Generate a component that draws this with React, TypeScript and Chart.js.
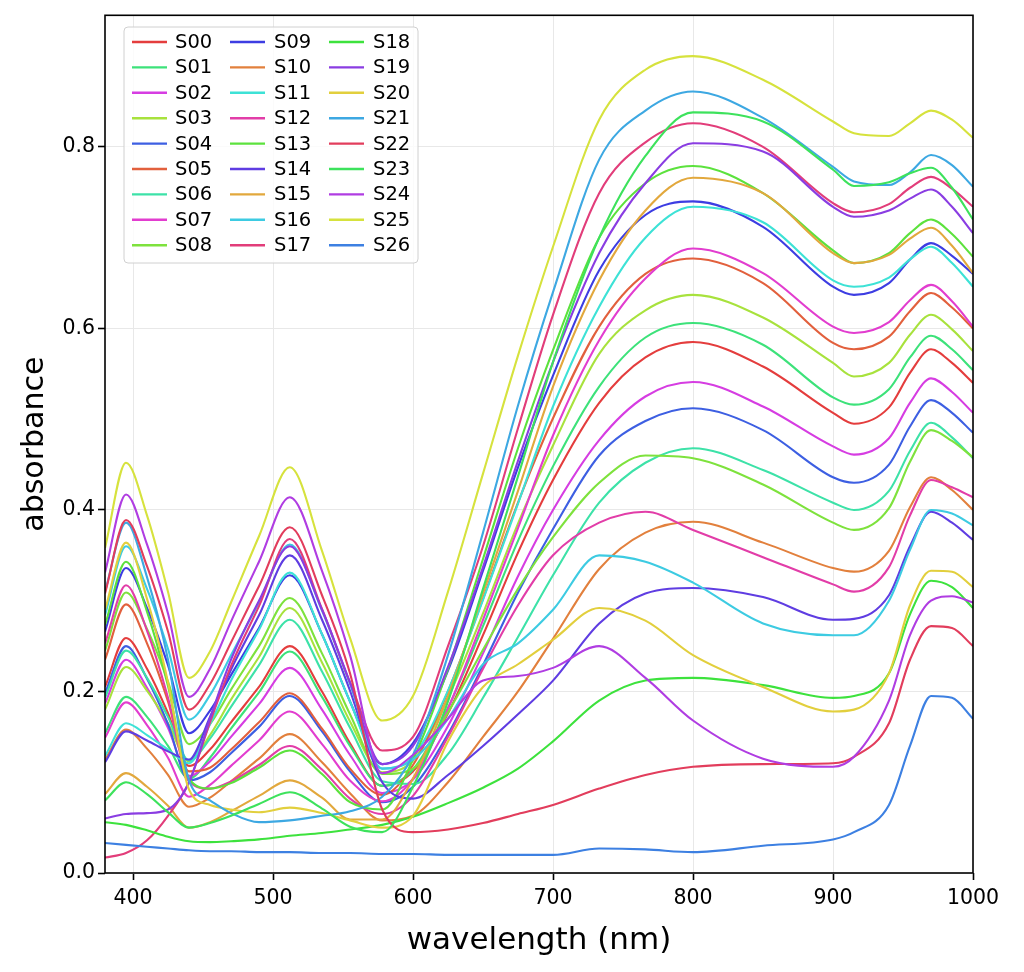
import React, { useEffect, useRef } from 'react';
import { Chart, registerables } from 'chart.js';

Chart.register(...registerables);

// wavelength grid (nm) at which the spectra were read
const wavelengths = [380, 395, 410, 425, 440, 455, 470, 490, 512, 535, 555, 578, 600, 625, 650, 675, 700, 733, 766, 800, 850, 900, 915, 940, 955, 970, 985, 1000];

const S00 = [0.205, 0.259, 0.225, 0.176, 0.118, 0.136, 0.166, 0.205, 0.250, 0.200, 0.143, 0.096, 0.112, 0.176, 0.262, 0.353, 0.433, 0.518, 0.568, 0.585, 0.558, 0.507, 0.495, 0.513, 0.551, 0.577, 0.562, 0.540];
const S01 = [0.154, 0.194, 0.172, 0.140, 0.104, 0.127, 0.159, 0.199, 0.244, 0.194, 0.140, 0.096, 0.114, 0.182, 0.272, 0.366, 0.448, 0.536, 0.590, 0.606, 0.582, 0.524, 0.516, 0.533, 0.568, 0.592, 0.577, 0.554];
const S02 = [0.187, 0.235, 0.204, 0.160, 0.107, 0.123, 0.150, 0.186, 0.226, 0.180, 0.130, 0.088, 0.103, 0.162, 0.242, 0.327, 0.400, 0.477, 0.525, 0.541, 0.514, 0.470, 0.461, 0.479, 0.518, 0.545, 0.530, 0.507];
const S03 = [0.180, 0.227, 0.201, 0.165, 0.123, 0.152, 0.191, 0.238, 0.292, 0.232, 0.167, 0.111, 0.124, 0.193, 0.286, 0.385, 0.471, 0.572, 0.620, 0.637, 0.612, 0.562, 0.547, 0.562, 0.593, 0.615, 0.599, 0.575];
const S04 = [0.198, 0.250, 0.214, 0.164, 0.102, 0.111, 0.132, 0.161, 0.195, 0.156, 0.112, 0.078, 0.095, 0.153, 0.229, 0.309, 0.379, 0.460, 0.498, 0.512, 0.488, 0.436, 0.430, 0.450, 0.492, 0.521, 0.507, 0.485];
const S05 = [0.235, 0.296, 0.253, 0.189, 0.112, 0.116, 0.136, 0.166, 0.198, 0.159, 0.115, 0.086, 0.119, 0.200, 0.302, 0.408, 0.501, 0.602, 0.660, 0.677, 0.650, 0.584, 0.577, 0.591, 0.619, 0.639, 0.623, 0.600];
const S06 = [0.193, 0.245, 0.215, 0.172, 0.124, 0.148, 0.183, 0.229, 0.279, 0.222, 0.160, 0.101, 0.098, 0.131, 0.193, 0.260, 0.328, 0.408, 0.452, 0.468, 0.444, 0.408, 0.400, 0.421, 0.465, 0.496, 0.480, 0.457];
const S07 = [0.149, 0.188, 0.163, 0.127, 0.084, 0.097, 0.118, 0.146, 0.178, 0.142, 0.102, 0.079, 0.104, 0.181, 0.279, 0.380, 0.482, 0.587, 0.655, 0.688, 0.661, 0.602, 0.595, 0.607, 0.631, 0.648, 0.630, 0.602];
const S08 = [0.245, 0.309, 0.269, 0.211, 0.142, 0.164, 0.202, 0.250, 0.303, 0.242, 0.175, 0.109, 0.115, 0.177, 0.246, 0.313, 0.370, 0.430, 0.460, 0.457, 0.428, 0.386, 0.378, 0.402, 0.453, 0.488, 0.476, 0.458];
const S09 = [0.266, 0.336, 0.292, 0.229, 0.154, 0.179, 0.218, 0.270, 0.328, 0.263, 0.189, 0.120, 0.143, 0.223, 0.333, 0.447, 0.548, 0.664, 0.725, 0.740, 0.712, 0.646, 0.637, 0.650, 0.676, 0.694, 0.680, 0.660];
const S10 = [0.125, 0.158, 0.137, 0.108, 0.073, 0.083, 0.101, 0.126, 0.153, 0.122, 0.088, 0.058, 0.063, 0.100, 0.150, 0.200, 0.258, 0.335, 0.375, 0.387, 0.364, 0.336, 0.332, 0.355, 0.403, 0.436, 0.422, 0.400];
const S11 = [0.129, 0.165, 0.152, 0.136, 0.121, 0.164, 0.212, 0.268, 0.331, 0.263, 0.189, 0.115, 0.128, 0.201, 0.301, 0.407, 0.514, 0.624, 0.700, 0.734, 0.717, 0.653, 0.646, 0.656, 0.676, 0.690, 0.672, 0.646];
const S12 = [0.253, 0.317, 0.267, 0.193, 0.101, 0.093, 0.101, 0.119, 0.140, 0.114, 0.082, 0.065, 0.085, 0.150, 0.225, 0.295, 0.350, 0.386, 0.398, 0.378, 0.348, 0.318, 0.310, 0.337, 0.394, 0.433, 0.425, 0.414];
const S13 = [0.273, 0.343, 0.288, 0.206, 0.104, 0.093, 0.099, 0.116, 0.135, 0.109, 0.078, 0.070, 0.125, 0.225, 0.346, 0.468, 0.576, 0.700, 0.760, 0.779, 0.749, 0.686, 0.672, 0.683, 0.705, 0.720, 0.704, 0.679];
const S14 = [0.122, 0.156, 0.146, 0.134, 0.125, 0.172, 0.224, 0.284, 0.350, 0.279, 0.201, 0.100, 0.082, 0.108, 0.140, 0.175, 0.212, 0.275, 0.308, 0.314, 0.304, 0.279, 0.280, 0.306, 0.360, 0.398, 0.386, 0.367];
const S15 = [0.087, 0.110, 0.095, 0.074, 0.050, 0.056, 0.068, 0.085, 0.102, 0.083, 0.059, 0.059, 0.104, 0.195, 0.308, 0.421, 0.536, 0.653, 0.730, 0.766, 0.749, 0.683, 0.672, 0.681, 0.699, 0.711, 0.691, 0.661];
const S16 = [0.284, 0.360, 0.313, 0.247, 0.169, 0.196, 0.240, 0.298, 0.362, 0.289, 0.208, 0.115, 0.125, 0.170, 0.230, 0.253, 0.290, 0.350, 0.343, 0.320, 0.275, 0.262, 0.262, 0.300, 0.356, 0.400, 0.396, 0.383];
const S17 = [0.017, 0.022, 0.036, 0.063, 0.100, 0.166, 0.228, 0.294, 0.368, 0.291, 0.210, 0.135, 0.150, 0.250, 0.360, 0.490, 0.615, 0.749, 0.805, 0.826, 0.800, 0.738, 0.728, 0.737, 0.755, 0.767, 0.754, 0.734];
const S18 = [0.056, 0.053, 0.047, 0.040, 0.035, 0.034, 0.035, 0.037, 0.041, 0.044, 0.048, 0.053, 0.062, 0.077, 0.094, 0.115, 0.145, 0.190, 0.212, 0.215, 0.207, 0.193, 0.195, 0.220, 0.285, 0.322, 0.315, 0.292];
const S19 = [0.060, 0.065, 0.066, 0.070, 0.100, 0.170, 0.235, 0.300, 0.360, 0.290, 0.210, 0.120, 0.140, 0.227, 0.337, 0.454, 0.563, 0.683, 0.760, 0.804, 0.795, 0.734, 0.723, 0.730, 0.743, 0.753, 0.734, 0.705];
const S20 = [0.290, 0.364, 0.302, 0.210, 0.092, 0.075, 0.070, 0.067, 0.072, 0.066, 0.058, 0.050, 0.063, 0.145, 0.205, 0.230, 0.257, 0.292, 0.278, 0.240, 0.205, 0.178, 0.180, 0.220, 0.295, 0.333, 0.332, 0.315];
const S21 = [0.310, 0.386, 0.326, 0.235, 0.102, 0.080, 0.066, 0.056, 0.058, 0.063, 0.068, 0.084, 0.130, 0.240, 0.375, 0.515, 0.640, 0.786, 0.840, 0.861, 0.832, 0.778, 0.762, 0.758, 0.772, 0.791, 0.780, 0.756];
const S22 = [0.308, 0.389, 0.338, 0.266, 0.180, 0.208, 0.254, 0.316, 0.381, 0.306, 0.220, 0.070, 0.045, 0.048, 0.055, 0.065, 0.075, 0.093, 0.108, 0.117, 0.120, 0.121, 0.128, 0.165, 0.235, 0.272, 0.270, 0.250];
const S23 = [0.080, 0.100, 0.087, 0.067, 0.050, 0.055, 0.063, 0.076, 0.089, 0.071, 0.051, 0.045, 0.095, 0.189, 0.313, 0.437, 0.563, 0.700, 0.790, 0.838, 0.828, 0.775, 0.757, 0.761, 0.771, 0.777, 0.755, 0.720];
const S24 = [0.331, 0.417, 0.362, 0.286, 0.194, 0.225, 0.277, 0.343, 0.414, 0.333, 0.240, 0.110, 0.130, 0.170, 0.212, 0.217, 0.226, 0.250, 0.215, 0.168, 0.126, 0.117, 0.128, 0.190, 0.262, 0.300, 0.305, 0.298];
const S25 = [0.358, 0.452, 0.394, 0.310, 0.215, 0.244, 0.298, 0.371, 0.447, 0.355, 0.259, 0.168, 0.195, 0.310, 0.440, 0.570, 0.690, 0.830, 0.885, 0.900, 0.874, 0.828, 0.815, 0.812, 0.826, 0.840, 0.830, 0.810];
const S26 = [0.033, 0.031, 0.029, 0.027, 0.025, 0.024, 0.024, 0.023, 0.023, 0.022, 0.022, 0.021, 0.021, 0.020, 0.020, 0.020, 0.020, 0.027, 0.026, 0.023, 0.030, 0.037, 0.045, 0.075, 0.140, 0.195, 0.193, 0.170];

const seriesValues = [S00, S01, S02, S03, S04, S05, S06, S07, S08, S09, S10, S11, S12, S13, S14, S15, S16, S17, S18, S19, S20, S21, S22, S23, S24, S25, S26];
const seriesNames = ['S00', 'S01', 'S02', 'S03', 'S04', 'S05', 'S06', 'S07', 'S08', 'S09', 'S10', 'S11', 'S12', 'S13', 'S14', 'S15', 'S16', 'S17', 'S18', 'S19', 'S20', 'S21', 'S22', 'S23', 'S24', 'S25', 'S26'];
const seriesColors = [
  '#e43d3d', '#3de27a', '#d63de2', '#a8e23d', '#3d5fe2', '#e2603d', '#3de2a8', '#e23dcf', '#7ee23d',
  '#3d3de2', '#e2803d', '#3de2d6', '#e23da8', '#5ce23d', '#5f3de2', '#e2a83d', '#3dcbe2', '#e23d7a',
  '#3de23d', '#8a3de2', '#e2cf3d', '#3da8e2', '#e23d5c', '#3de25c', '#b03de2', '#d6e23d', '#3d80e2',
];

const xTicks = [400, 500, 600, 700, 800, 900, 1000];
const yTicks = [0.0, 0.2, 0.4, 0.6, 0.8];
const xRange = [380, 1000];
const yRange = [0, 0.945];

const FONT = "'DejaVu Sans', 'Liberation Sans', sans-serif";

const framePlugin = {
  id: 'frame',
  afterDatasetsDraw(chart: any) {
    const { ctx, chartArea } = chart;
    ctx.save();
    ctx.strokeStyle = '#000';
    ctx.lineWidth = 1.6;
    ctx.strokeRect(chartArea.left, chartArea.top, chartArea.right - chartArea.left, chartArea.bottom - chartArea.top);
    ctx.restore();
  },
};

const legendPlugin = {
  id: 'gridLegend',
  afterDraw(chart: any) {
    const { ctx } = chart;
    const x0 = 124, y0 = 27, w = 294, h = 236, r = 4;
    ctx.save();
    ctx.beginPath();
    ctx.moveTo(x0 + r, y0);
    ctx.lineTo(x0 + w - r, y0);
    ctx.quadraticCurveTo(x0 + w, y0, x0 + w, y0 + r);
    ctx.lineTo(x0 + w, y0 + h - r);
    ctx.quadraticCurveTo(x0 + w, y0 + h, x0 + w - r, y0 + h);
    ctx.lineTo(x0 + r, y0 + h);
    ctx.quadraticCurveTo(x0, y0 + h, x0, y0 + h - r);
    ctx.lineTo(x0, y0 + r);
    ctx.quadraticCurveTo(x0, y0, x0 + r, y0);
    ctx.closePath();
    ctx.fillStyle = 'rgba(255,255,255,0.8)';
    ctx.fill();
    ctx.strokeStyle = '#d0d0d0';
    ctx.lineWidth = 1;
    ctx.stroke();

    const lineX = [132, 230, 329];
    const textX = [175, 274, 373];
    ctx.font = `19.5px ${FONT}`;
    ctx.textBaseline = 'middle';
    ctx.textAlign = 'left';
    chart.data.datasets.forEach((ds: any, i: number) => {
      const col = Math.floor(i / 9);
      const row = i % 9;
      const y = 42 + row * 25.4;
      ctx.strokeStyle = ds.borderColor;
      ctx.lineWidth = 2.4;
      ctx.beginPath();
      ctx.moveTo(lineX[col], y);
      ctx.lineTo(lineX[col] + 35, y);
      ctx.stroke();
      ctx.fillStyle = '#000';
      ctx.fillText(ds.label, textX[col], y + 1);
    });
    ctx.restore();
  },
};

export default function App() {
  const ref = useRef<HTMLCanvasElement>(null);

  useEffect(() => {
    document.body.style.margin = '0';
    if (!ref.current) return;
    const datasets = seriesValues.map((vals, i) => ({
      label: seriesNames[i],
      data: vals.map((v, j) => ({ x: wavelengths[j], y: v })),
      borderColor: seriesColors[i],
      backgroundColor: seriesColors[i],
      borderWidth: 2.1,
      pointRadius: 0,
      fill: false,
      cubicInterpolationMode: 'monotone' as const,
      order: seriesValues.length - 1 - i,
    }));

    const chart = new Chart(ref.current, {
      type: 'line',
      data: { datasets },
      options: {
        animation: false,
        responsive: false,
        maintainAspectRatio: false,
        layout: { padding: { left: 0, right: 51, top: 15, bottom: 0 } },
        plugins: {
          legend: { display: false },
          tooltip: { enabled: false },
        },
        scales: {
          x: {
            type: 'linear',
            min: xRange[0],
            max: xRange[1],
            afterBuildTicks: (scale: any) => {
              scale.ticks = xTicks.map((v) => ({ value: v }));
            },
            afterFit: (scale: any) => {
              scale.height = 99;
            },
            border: { display: false },
            grid: {
              color: '#e8e8e8',
              lineWidth: 1,
              drawTicks: true,
              tickLength: 7,
              tickColor: '#000',
              tickWidth: 1.6,
            },
            ticks: {
              color: '#000',
              font: { family: FONT, size: 20.5 },
              padding: 6,
              maxRotation: 0,
              autoSkip: false,
              callback: (v: any) => String(v),
            },
            title: {
              display: true,
              text: 'wavelength (nm)',
              color: '#000',
              font: { family: FONT, size: 31 },
              padding: { top: 0, bottom: 12 },
            },
          },
          y: {
            type: 'linear',
            min: yRange[0],
            max: yRange[1],
            afterBuildTicks: (scale: any) => {
              scale.ticks = yTicks.map((v) => ({ value: v }));
            },
            afterFit: (scale: any) => {
              scale.width = 105;
            },
            border: { display: false },
            grid: {
              color: '#e8e8e8',
              lineWidth: 1,
              drawTicks: true,
              tickLength: 7,
              tickColor: '#000',
              tickWidth: 1.6,
            },
            ticks: {
              color: '#000',
              font: { family: FONT, size: 20.5 },
              padding: 3,
              autoSkip: false,
              callback: (v: any) => Number(v).toFixed(1),
            },
            title: {
              display: true,
              text: 'absorbance',
              color: '#000',
              font: { family: FONT, size: 30 },
              padding: { top: 17, bottom: 0 },
            },
          },
        },
      },
      plugins: [framePlugin, legendPlugin],
    });

    return () => chart.destroy();
  }, []);

  return (
    <div style={{ width: 1024, height: 972, overflow: 'hidden', background: '#fff' }}>
      <canvas ref={ref} width={1024} height={972} style={{ display: 'block', width: 1024, height: 972 }} />
    </div>
  );
}
